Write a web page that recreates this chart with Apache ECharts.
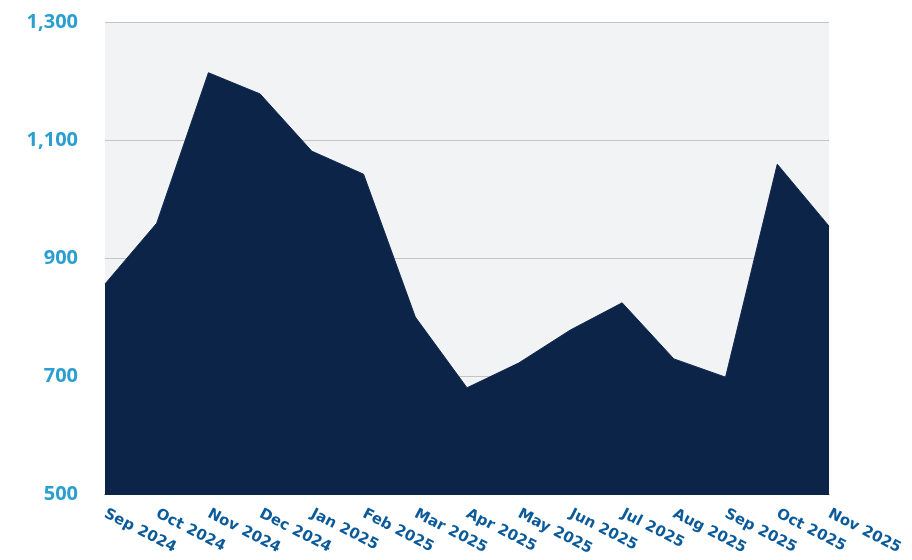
<!DOCTYPE html>
<html>
<head>
<meta charset="utf-8">
<script src="https://cdn.jsdelivr.net/npm/echarts@6/dist/echarts.min.js"></script>
<style>html,body{margin:0;padding:0;background:#fff;}#c{width:912px;height:560px;}</style>
</head>
<body>
<div id="c"></div>
<script>
const categories = ["Sep 2024","Oct 2024","Nov 2024","Dec 2024","Jan 2025","Feb 2025","Mar 2025","Apr 2025","May 2025","Jun 2025","Jul 2025","Aug 2025","Sep 2025","Oct 2025","Nov 2025"];
const values = [856, 959, 1214, 1178, 1081, 1042, 800, 680, 722, 778, 824, 729, 698, 1059, 954];

const chart = echarts.init(document.getElementById('c'), null, {renderer: 'canvas'});
chart.setOption({
  animation: false,
  backgroundColor: '#ffffff',
  grid: {left: 105, right: 83, top: 22, bottom: 66, show: true, backgroundColor: '#f2f3f5', borderWidth: 0},
  xAxis: {
    type: 'category',
    data: categories,
    boundaryGap: false,
    axisLine: {show: true, lineStyle: {color: '#0d2449', width: 1}},
    axisTick: {show: false},
    axisLabel: {
      interval: 0, rotate: -27, margin: 19,
      color: '#0b5a9a', fontSize: 15, fontWeight: 'bold', fontFamily: 'DejaVu Sans'
    },
    splitLine: {show: false}
  },
  yAxis: {
    type: 'value',
    min: 500, max: 1300, interval: 200,
    axisLine: {show: false},
    axisTick: {show: false},
    axisLabel: {
      margin: 27, color: '#2a9fd0', fontSize: 20, fontWeight: 'bold', fontFamily: 'Open Sans',
      formatter: v => v.toLocaleString('en-US')
    },
    splitLine: {show: true, lineStyle: {color: '#c4c4c4', width: 1}}
  },
  series: [{
    type: 'line',
    data: values,
    symbol: 'none',
    lineStyle: {color: '#0d2449', width: 1},
    areaStyle: {color: '#0d2449', opacity: 1, origin: 'start'},
    z: 3
  }]
});
</script>
</body>
</html>
